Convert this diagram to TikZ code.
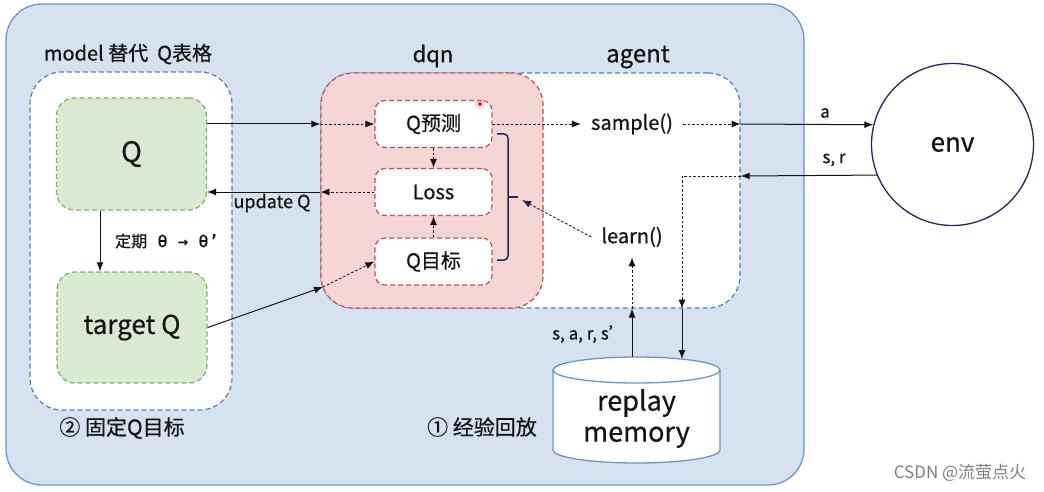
\documentclass[tikz,border=0pt]{standalone}
\usepackage{fontspec}
\setmainfont{Noto Sans CJK SC}[FakeBold=0.6]
\newfontfamily\thetafont{DejaVu Sans Mono}[FakeBold=0.6]
\newfontfamily\wmfont{Noto Sans CJK SC}
\usetikzlibrary{arrows.meta}
\definecolor{outerfill}{RGB}{214,226,240}
\definecolor{outerline}{RGB}{108,150,200}
\definecolor{grpline}{RGB}{79,129,189}
\definecolor{greenfill}{RGB}{218,234,210}
\definecolor{greenline}{RGB}{130,179,102}
\definecolor{redfill}{RGB}{246,214,213}
\definecolor{redline}{RGB}{192,80,77}
\definecolor{navy}{RGB}{31,40,90}
\definecolor{ink}{RGB}{20,20,20}
\newcommand{\fsz}[1]{\fontsize{#1}{#1}\selectfont}

\begin{document}
\begin{tikzpicture}[x=1pt, y=-1pt,
  grp/.style={draw=grpline, line width=1.2pt, dash pattern=on 5pt off 3pt,
    fill=white, rounded corners=32pt, inner sep=0pt},
  qbox/.style={draw=greenline, fill=greenfill, line width=1.3pt,
    dash pattern=on 5pt off 3pt, rounded corners=18pt, inner sep=0pt,
    minimum width=150pt, text=ink},
  dqnbox/.style={draw=redline, fill=white, line width=1.2pt,
    dash pattern=on 5pt off 3pt, rounded corners=10pt, inner sep=0pt,
    minimum width=117pt, minimum height=47pt, font=\fsz{20}, text=ink},
  solidarr/.style={draw=ink, line width=1pt, -{Latex[length=9pt,width=7pt]}},
  dotarr/.style={draw=ink, line width=0.9pt, dash pattern=on 2.5pt off 2pt,
    -{Latex[length=9pt,width=7pt]}},
  brace/.style={draw=navy, line width=1.5pt, rounded corners=4pt},
  lbl/.style={text=ink, inner sep=0pt}]
\useasboundingbox (0,0) rectangle (1044,492);
%
\node[draw=outerline, fill=outerfill, line width=1.3pt, rounded corners=36pt,
  minimum width=798pt, minimum height=481pt, inner sep=0pt] (outer) at (405,244.5) {};
\node[grp, minimum width=202pt, minimum height=338pt] (model) at (131,241) {};
\node[grp, minimum width=419pt, minimum height=235pt] (agent) at (530.5,190.5) {};
\node[grp, draw=redline, fill=redfill, minimum width=222pt, minimum height=235pt] (dqn) at (432,190.5) {};
%
\node[qbox, minimum height=112pt, font=\fsz{28}] (q) at (131.5,154) {Q};
\node[qbox, minimum height=111pt, font=\fsz{26}] (tq) at (132,327.5) {target Q};
%
\node[dqnbox] (qp) at (433.5,124) {Q预测};
\node[dqnbox] (loss) at (433.5,192) {Loss};
\node[dqnbox] (qt) at (433.5,261.5) {Q目标};
\fill[red!60, opacity=0.35] (480,104) circle (4.5pt);
\fill[red!85!black] (480,104) circle (1.8pt);
%
\node[circle, draw=navy, line width=1.3pt, fill=white, minimum size=162pt,
  inner sep=0pt, font=\fsz{26}, text=ink] (env) at (952.5,144.5) {env};
%
\draw[draw=outerline, line width=1.3pt, fill=white]
  (553,370) -- (553,450) arc[start angle=180, end angle=360, x radius=83.5pt, y radius=13pt] -- (720,370);
\draw[draw=outerline, line width=1.3pt, fill=white] (636.5,370) ellipse [x radius=83.5pt, y radius=13pt];
\node[lbl, align=center, font=\fontsize{27}{31}\selectfont] (mem) at (636.5,418.5) {replay\\memory};
\coordinate (smem) at (632,357);
\coordinate (rmem) at (682,359);
%
\node[lbl, font=\fsz{20}] (modellab) at (128,54) {model 替代\ \ Q表格};
\node[lbl, font=\fsz{22}] (dqnlab) at (433,56) {dqn};
\node[lbl, font=\fsz{24}] (agentlab) at (638,57) {agent};
\node[lbl, font=\fsz{16}] (synclab) at (167,241) {定期{\thetafont\fsz{17}\ θ → θ’}};
\node[lbl, font=\fsz{21}] (fixlab) at (122,428) {② 固定Q目标};
\node[lbl, font=\fsz{21}] (replab) at (482,427) {① 经验回放};
\node[lbl, font=\fsz{17}] (tuplab) at (589,334) {s, a, r, s’};
\node[lbl, font=\wmfont\fsz{17}, text=gray] (wm) at (960,473) {CSDN @流萤点火};
%
\node[text=ink, inner sep=10pt, font=\fsz{20}] (sample) at (632,124) {sample()};
\node[text=ink, inner sep=10pt, font=\fsz{20}] (learn) at (632,237) {learn()};
%
\coordinate (qin) at (dqn.west |- qp.west);
\draw[solidarr] (q.east |- qp.west) -- (qin);
\draw[dotarr] (qin) -- (qp.west);
%
\coordinate (lossout) at (dqn.west |- loss.west);
\draw[dotarr] (loss.west) -- (lossout);
\draw[solidarr] (lossout) -- (q.east |- loss.west);
\node[lbl, font=\fsz{18}] (updlab) at (272,203) {update Q};
%
\draw[solidarr] (q.south -| 100,0) -- (tq.north -| 100,0);
%
\coordinate (tqin) at (323,287);
\draw[solidarr] (tq.east) -- (tqin);
\draw[dotarr] (tqin) -- (qt.west);
%
\draw[dotarr] (qp.south) -- (loss.north);
\draw[dotarr] (qt.north) -- (loss.south);
%
\draw[brace] (497,134) -- (508,134) -- (508,260) -- (497,260);
\draw[brace] (508,197) -- (518,197);
\coordinate (bracetip) at (522,200);
\draw[dotarr, -{Latex[length=9pt,width=7pt,color=navy]}] (learn.west) -- (bracetip);
%
\coordinate (aout) at (agent.east |- sample.east);
\draw[dotarr] (qp.east) -- (sample.west);
\draw[dotarr] (sample.east) -- (aout);
\draw[solidarr] (aout) -- (env.166.8);
\node[lbl, font=\fsz{17}] (alab) at (825,113) {a};
%
\coordinate (ain) at (agent.east |- 0,176);
\coordinate (bend) at (682,176);
\coordinate (aoutb) at (agent.south -| bend);
\draw[solidarr] (env.202.9) -- (ain);
\node[lbl, font=\fsz{17}] (srlab) at (834,160) {s, r};
\draw[dotarr] (ain) -- (bend) -- (aoutb);
\draw[solidarr] (aoutb) -- (rmem);
%
\coordinate (ainb) at (agent.south -| smem);
\draw[solidarr] (smem) -- (ainb);
\draw[dotarr] (ainb) -- (learn.south);
\end{tikzpicture}
\end{document}
